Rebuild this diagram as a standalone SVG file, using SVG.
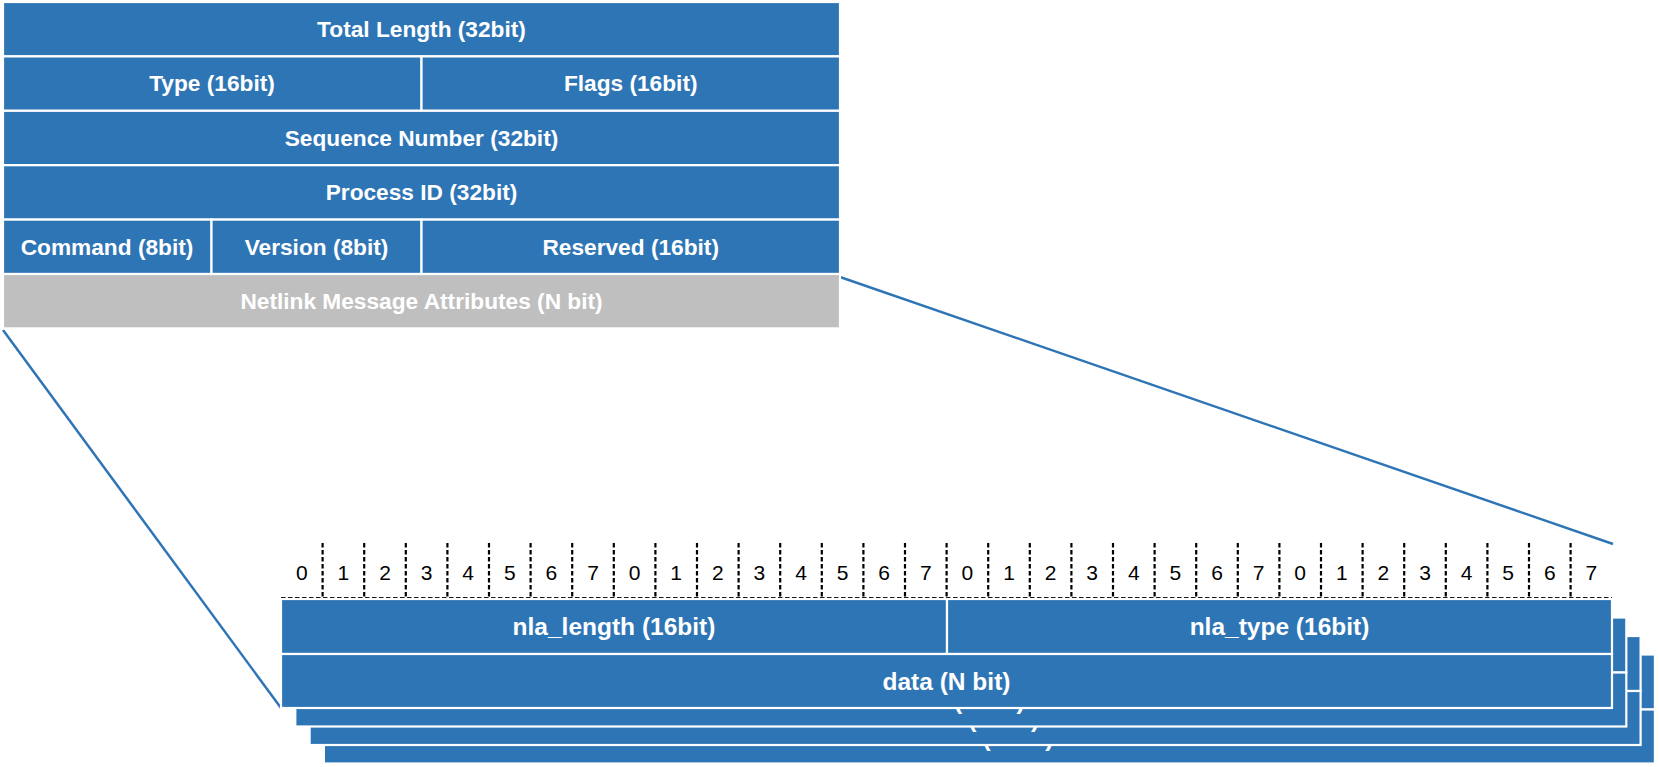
<svg xmlns="http://www.w3.org/2000/svg" width="1659" height="767" viewBox="0 0 1659 767">
<style>
.cell{fill:#2E75B6;stroke:#FFFFFF;stroke-width:2.2}
.gray{fill:#BFBFBF;stroke:#FFFFFF;stroke-width:2.2}
.t{font-family:"Liberation Sans",Arial,sans-serif;font-weight:bold;font-size:22.7px;fill:#FFFFFF;text-anchor:middle}
.tb{font-family:"Liberation Sans",Arial,sans-serif;font-weight:bold;font-size:24.5px;fill:#FFFFFF;text-anchor:middle}
.num{font-family:"Liberation Sans",Arial,sans-serif;font-size:21px;fill:#000000;text-anchor:middle}
.dash{stroke:#000000;stroke-width:2.2;stroke-dasharray:4.5 2.5;fill:none}
.conn{stroke:#2E75B6;stroke-width:2.5;fill:none}
</style>
<rect width="1659" height="767" fill="#FFFFFF"/>

<g id="connectors">
<line class="conn" x1="3" y1="330" x2="281" y2="708"/>
<line class="conn" x1="840" y1="277" x2="1613" y2="544"/>
</g>

<g id="header">
<g id="total-length"><rect class="cell" x="3" y="2" width="837" height="54.4"/><text class="t" x="421.5" y="37">Total Length (32bit)</text></g>
<g id="type"><rect class="cell" x="3" y="56.4" width="418.5" height="54.4"/><text class="t" x="212" y="91.4">Type (16bit)</text></g>
<g id="flags"><rect class="cell" x="421.5" y="56.4" width="418.5" height="54.4"/><text class="t" x="630.7" y="91.4">Flags (16bit)</text></g>
<g id="sequence"><rect class="cell" x="3" y="110.8" width="837" height="54.4"/><text class="t" x="421.5" y="145.8">Sequence Number (32bit)</text></g>
<g id="process-id"><rect class="cell" x="3" y="165.2" width="837" height="54.4"/><text class="t" x="421.5" y="200.2">Process ID (32bit)</text></g>
<g id="command"><rect class="cell" x="3" y="219.6" width="208.5" height="54.4"/><text class="t" x="107" y="254.6">Command (8bit)</text></g>
<g id="version"><rect class="cell" x="211.5" y="219.6" width="210" height="54.4"/><text class="t" x="316.5" y="254.6">Version (8bit)</text></g>
<g id="reserved"><rect class="cell" x="421.5" y="219.6" width="418.5" height="54.4"/><text class="t" x="630.7" y="254.6">Reserved (16bit)</text></g>
<g id="attributes"><rect class="gray" x="3" y="274" width="837" height="54.4"/><text class="t" x="421.5" y="309">Netlink Message Attributes (N bit)</text></g>
</g>

<g id="ruler">
<line class="dash" x1="281" y1="598" x2="1612" y2="598"/>
<line class="dash" x1="322.6" y1="543" x2="322.6" y2="598"/>
<line class="dash" x1="364.2" y1="543" x2="364.2" y2="598"/>
<line class="dash" x1="405.8" y1="543" x2="405.8" y2="598"/>
<line class="dash" x1="447.4" y1="543" x2="447.4" y2="598"/>
<line class="dash" x1="489" y1="543" x2="489" y2="598"/>
<line class="dash" x1="530.6" y1="543" x2="530.6" y2="598"/>
<line class="dash" x1="572.2" y1="543" x2="572.2" y2="598"/>
<line class="dash" x1="613.8" y1="543" x2="613.8" y2="598"/>
<line class="dash" x1="655.4" y1="543" x2="655.4" y2="598"/>
<line class="dash" x1="697" y1="543" x2="697" y2="598"/>
<line class="dash" x1="738.6" y1="543" x2="738.6" y2="598"/>
<line class="dash" x1="780.2" y1="543" x2="780.2" y2="598"/>
<line class="dash" x1="821.8" y1="543" x2="821.8" y2="598"/>
<line class="dash" x1="863.4" y1="543" x2="863.4" y2="598"/>
<line class="dash" x1="905" y1="543" x2="905" y2="598"/>
<line class="dash" x1="946.6" y1="543" x2="946.6" y2="598"/>
<line class="dash" x1="988.2" y1="543" x2="988.2" y2="598"/>
<line class="dash" x1="1029.8" y1="543" x2="1029.8" y2="598"/>
<line class="dash" x1="1071.4" y1="543" x2="1071.4" y2="598"/>
<line class="dash" x1="1113" y1="543" x2="1113" y2="598"/>
<line class="dash" x1="1154.6" y1="543" x2="1154.6" y2="598"/>
<line class="dash" x1="1196.2" y1="543" x2="1196.2" y2="598"/>
<line class="dash" x1="1237.8" y1="543" x2="1237.8" y2="598"/>
<line class="dash" x1="1279.4" y1="543" x2="1279.4" y2="598"/>
<line class="dash" x1="1321" y1="543" x2="1321" y2="598"/>
<line class="dash" x1="1362.6" y1="543" x2="1362.6" y2="598"/>
<line class="dash" x1="1404.2" y1="543" x2="1404.2" y2="598"/>
<line class="dash" x1="1445.8" y1="543" x2="1445.8" y2="598"/>
<line class="dash" x1="1487.4" y1="543" x2="1487.4" y2="598"/>
<line class="dash" x1="1529" y1="543" x2="1529" y2="598"/>
<line class="dash" x1="1570.6" y1="543" x2="1570.6" y2="598"/>
<text class="num" x="301.8" y="580">0</text>
<text class="num" x="343.4" y="580">1</text>
<text class="num" x="385" y="580">2</text>
<text class="num" x="426.6" y="580">3</text>
<text class="num" x="468.2" y="580">4</text>
<text class="num" x="509.8" y="580">5</text>
<text class="num" x="551.4" y="580">6</text>
<text class="num" x="593" y="580">7</text>
<text class="num" x="634.6" y="580">0</text>
<text class="num" x="676.2" y="580">1</text>
<text class="num" x="717.8" y="580">2</text>
<text class="num" x="759.4" y="580">3</text>
<text class="num" x="801" y="580">4</text>
<text class="num" x="842.6" y="580">5</text>
<text class="num" x="884.2" y="580">6</text>
<text class="num" x="925.8" y="580">7</text>
<text class="num" x="967.4" y="580">0</text>
<text class="num" x="1009" y="580">1</text>
<text class="num" x="1050.6" y="580">2</text>
<text class="num" x="1092.2" y="580">3</text>
<text class="num" x="1133.8" y="580">4</text>
<text class="num" x="1175.4" y="580">5</text>
<text class="num" x="1217" y="580">6</text>
<text class="num" x="1258.6" y="580">7</text>
<text class="num" x="1300.2" y="580">0</text>
<text class="num" x="1341.8" y="580">1</text>
<text class="num" x="1383.4" y="580">2</text>
<text class="num" x="1425" y="580">3</text>
<text class="num" x="1466.6" y="580">4</text>
<text class="num" x="1508.2" y="580">5</text>
<text class="num" x="1549.8" y="580">6</text>
<text class="num" x="1591.4" y="580">7</text>
</g>

<g id="attr-card-4" transform="translate(323.9,654.5)">
<rect class="cell" x="0" y="0" width="666" height="55"/><rect class="cell" x="666" y="0" width="665" height="55"/>
<rect class="cell" x="0" y="55" width="1331" height="54"/><text class="tb" x="665.5" y="91">data (N bit)</text>
</g>
<g id="attr-card-3" transform="translate(309.6,636)">
<rect class="cell" x="0" y="0" width="666" height="55"/><rect class="cell" x="666" y="0" width="665" height="55"/>
<rect class="cell" x="0" y="55" width="1331" height="54"/><text class="tb" x="665.5" y="91">data (N bit)</text>
</g>
<g id="attr-card-2" transform="translate(295.3,617.5)">
<rect class="cell" x="0" y="0" width="666" height="55"/><rect class="cell" x="666" y="0" width="665" height="55"/>
<rect class="cell" x="0" y="55" width="1331" height="54"/><text class="tb" x="665.5" y="91">data (N bit)</text>
</g>
<g id="attr-card-1" transform="translate(281,599)">
<rect class="cell" x="0" y="0" width="666" height="55"/><text class="tb" x="333" y="36">nla_length (16bit)</text>
<rect class="cell" x="666" y="0" width="665" height="55"/><text class="tb" x="998.5" y="36">nla_type (16bit)</text>
<rect class="cell" x="0" y="55" width="1331" height="54"/><text class="tb" x="665.5" y="91">data (N bit)</text>
</g>
</svg>
